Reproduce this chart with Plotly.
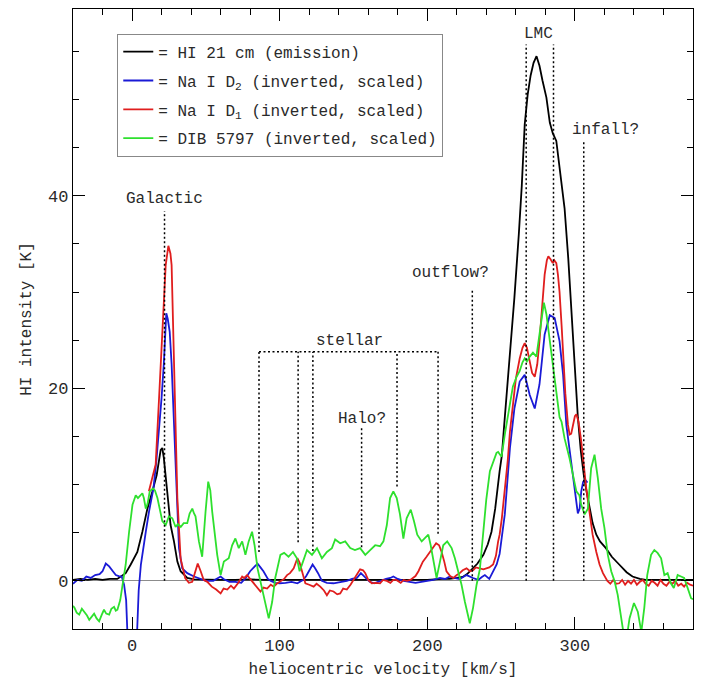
import plotly.graph_objects as go

# ---------------- data ----------------
hi_v = [-40, -35, -30, -25, -20, -15, -10, -7.6, -4.3, -0.9, 3.6, 7, 10.4, 13.8, 16.7, 19.4, 20.5,
        21.5, 22.8, 25, 26.1, 28.4, 30.7, 32.9, 37.4, 42, 50, 60, 70, 80, 90, 100, 110, 120, 130,
        140, 150, 160, 170, 180, 190, 200, 210, 215, 220, 224, 227, 229, 231, 234, 238, 241, 243.5,
        246, 249, 250.5, 252, 255, 259, 262, 264, 266, 268, 270, 272, 274, 276, 278, 280.7, 283,
        285, 287.4, 290, 293, 295.5, 297.6, 300, 302, 304, 306, 308, 310, 312, 314.5, 317, 321,
        325, 330, 335, 339, 344, 348, 355, 362, 370, 380]
hi_k = [0.1, 0.2, 0.1, 0.2, 0.1, 0.2, 0.2, 0.45, 0.8, 1.7, 3.0, 5.1, 7.5, 9.3, 11.0, 13.6, 13.8,
        12.8, 10.7, 7.2, 5.8, 4.1, 2.0, 1.0, 0.3, 0.15, 0.1, 0.1, 0.1, 0.15, 0.1, 0.1, 0.15, 0.1, 0.1,
        0.15, 0.1, 0.1, 0.15, 0.1, 0.15, 0.1, 0.2, 0.2, 0.3, 0.4, 0.7, 1.0, 1.3, 1.8, 2.7, 3.8, 5.1,
        7.5, 11.4, 13.0, 16.0, 21.5, 29.4, 36.0, 41.0, 47.4, 50.5, 52.5, 53.8, 54.5, 53.5, 52.0, 50.2, 47.6,
        46.5, 45.7, 42.5, 38.7, 33.5, 28.3, 22.5, 17.0, 13.5, 11.0, 9.2, 7.5, 6.0, 4.8, 4.1, 3.4,
        2.5, 1.7, 0.9, 0.45, 0.2, 0.1, 0.1, 0.15, 0.1, 0.1]

d2_pts = [(-40, -0.3), (-37, 0.1), (-34, 0.0), (-31, 0.45), (-28, 0.3), (-25, 0.6), (-22, 0.7),
          (-20, 1.0), (-17.8, 1.8), (-15.5, 1.5), (-13, 1.0), (-11, 0.6), (-9, 0.5), (-7, 0.45),
          (-5.4, -0.4), (-4, -2), (-3, -6), (-1, -15), (1, -15), (3, -6), (4.5, -1), (6, 1.7),
          (7.5, 3.5), (9.3, 5.1), (11.5, 7.2), (14.5, 9.6), (16.5, 12.5), (18.3, 15.5), (20, 19),
          (21.5, 22.5), (22.5, 26), (23.2, 27.8), (24.2, 27.2), (25.5, 25.9), (26.8, 22.5), (28, 18),
          (30, 8.6), (31.8, 3.4), (34, 1.3), (37.4, 0.8), (42, 0.45), (46.4, 0.2), (50, 0.0), (55, 0.0),
          (58, 0.3), (60, 0.45), (62, 0.2), (66, -0.1), (70, -0.1), (74, -0.2), (77, 0.3), (80, 1.0),
          (82.5, 1.4), (85, 1.8), (87, 1.4), (89, 1.0), (92, 0.2), (94, 0.0), (97, -0.2), (100, -0.25),
          (104, -0.2), (108, -0.1), (112, -0.25), (116, 0.1), (118, 0.5), (120, 1.0), (122.3, 1.7),
          (124, 1.3), (126, 0.8), (128.6, 0.0), (132, -0.2), (136.5, -0.25), (141, -0.1), (145.5, 0.0),
          (149, 0.2), (152.3, 0.3), (155, 0.8), (158, 0.3), (161, -0.1), (164, -0.25), (168, 0.0),
          (172, 0.2), (175, 0.3), (177, 0.45), (180, 0.2), (184, 0.0), (188, -0.1), (192, -0.2),
          (196, -0.1), (200, 0.0), (204, 0.1), (208.6, 0.3), (212, 0.2), (215.3, 0.45), (218, 0.3),
          (222, 0.2), (226.6, 0.6), (231, 0.3), (234.5, 0.1), (237, 0.4), (239, 0.6), (242, 0.2),
          (244.6, 1.0), (247, 1.7), (249, 2.8), (252.5, 6.9), (256, 13.8), (259, 17.9), (262.6, 20.7),
          (266, 21.4), (269.4, 19.3), (272.8, 17.9), (276, 20.4), (279.5, 25.6), (283, 27.6),
          (286.3, 27.3), (289.6, 24.9), (292, 21.4), (294.2, 16.2), (296.5, 13.5), (298.6, 11.4),
          (301, 8.5), (302, 7.0), (303.2, 7.5), (304.3, 9.3), (305.6, 10.3), (307, 10.5), (308.5, 10.2)]

d1_pts = [(11.4, 9.3), (13.5, 10.5), (16, 12.1), (18.3, 19), (20.5, 25.9), (22.8, 32.8), (24.6, 34.8),
          (26, 34), (26.8, 32.8), (28.4, 22.5), (30.7, 8.6), (32.9, 2.3), (36, 0.3), (38.5, -0.2),
          (40.8, -0.1), (42.5, 0.8), (44.5, 1.8), (46.5, 1.0), (48.5, 0.1), (51, -0.1), (54, -0.6),
          (57, -0.9), (60, -1.3), (62, -0.8), (64.5, -0.9), (67, -0.5), (69, -0.8), (72, -0.2),
          (74.6, 0.45), (76, 0.3), (78, 0.6), (80, 0.2), (82.4, -0.25), (85, -0.8), (87, -1.1),
          (89, -0.7), (91.5, -0.8), (94, -0.4), (96, -0.6), (98, -0.3), (100.5, -0.07), (103, 0.2),
          (105, 0.6), (107, 0.8), (109.5, 1.3), (112, 2.35), (113.5, 1.9), (115, 1.0), (117.4, -0.25),
          (120, -0.4), (123, -0.6), (125, -0.3), (127.5, -0.6), (130, -1.0), (132, -1.5), (134, -1.0),
          (136.5, -1.1), (139, -1.4), (141, -1.3), (143, -0.8), (145.5, -0.9), (148, -0.4), (150, 0.1),
          (152, 0.6), (154.5, 1.2), (156.5, 1.1), (158, 0.8), (160, 0.1), (162.4, -0.25), (165, -0.2),
          (168, -0.25), (170, 0.1), (172.6, 0.0), (175, -0.2), (177, 0.1), (179, 0.1), (182, -0.2),
          (184, 0.1), (186, 0.0), (188.5, 0.1), (190.6, 0.3), (192, 0.5), (194, 1.0), (197, 2.0),
          (199.5, 2.5), (202, 3.0), (204, 3.5), (206, 3.9), (208, 3.7), (209.7, 3.0), (211.5, 2.0),
          (213, 1.0), (215.5, 0.5), (217.6, 0.3), (220, 0.6), (222, 0.8), (224, 1.1), (226.6, 1.3),
          (229, 1.0), (231, 1.1), (233, 1.4), (235.6, 1.3), (238, 1.2), (240, 1.3), (242, 1.4),
          (244.6, 1.7), (246.5, 2.6), (248, 4.1), (249, 4.8), (250.5, 6.5), (252.5, 9.3), (254.5, 12.5),
          (256, 15.5), (258, 18.5), (260, 21), (262.6, 23.1), (264.5, 24.2), (266, 24.7), (267.5, 24.2),
          (269.4, 22.8), (271, 21.6), (272.8, 21.2), (274.5, 22.5), (276, 24.9), (278, 28.5),
          (279.5, 31.8), (281, 33.3), (282, 33.7), (283.5, 33.4), (285, 33.0), (286, 33.3),
          (287.4, 33.0), (288.5, 31.8), (289.6, 30), (291, 26.5), (292, 23.1), (293.5, 19.5),
          (295.3, 16.2), (296.4, 15.2), (297.5, 15.3), (299, 16.5), (300, 17.1), (301, 17.3),
          (302.5, 16.5), (304.3, 14.5), (306, 12), (307.7, 9.6), (310, 7), (312, 4.8), (314.5, 3),
          (316.7, 1.7), (319, 0.8), (322, 0.0), (324, -0.3), (326, 0.1), (328, -0.3), (330, -0.25),
          (332, 0.1), (334, -0.4), (336, 0.0), (338, -0.3), (340, 0.1), (342, -0.4), (344, -0.1),
          (346, 0.1), (348, -0.3), (350, -0.5), (352, 0.0), (354, -0.2), (356, -0.5), (358, 0.1),
          (360, -0.3), (362, -0.5), (364, -0.1), (366, -0.3), (368, 0.0), (370, -0.5), (372, -0.3),
          (374, -0.6), (376, -0.2), (378, -0.4), (380, -0.5)]

dib_pts = [(-40, -2.6), (-39, -2.8), (-37.5, -3.3), (-35.8, -3.5), (-34, -2.9), (-32.4, -3.2),
           (-30.5, -3.6), (-29, -4.05), (-27.5, -3.7), (-25.7, -3.4), (-24, -3.9), (-22.3, -4.2),
           (-20.5, -3.5), (-19, -3.0), (-17.5, -3.4), (-15.5, -3.5), (-14, -2.9), (-12.2, -2.7),
           (-11, -3.1), (-9.9, -3.0), (-8, -2.0), (-6.5, -0.4), (-4.3, 1.7), (-2, 5.1), (0.3, 7.9),
           (2.5, 8.9), (4, 8.6), (5.2, 8.8), (7, 9.1), (8, 8.6), (9.3, 7.5), (10.5, 8.0), (12, 9.3),
           (14.2, 9.6), (15.5, 9.4), (17.2, 8.6), (19, 7.2), (20.5, 6.2), (22.8, 5.8), (24, 6.2),
           (25, 6.7), (27.3, 6.5), (29.5, 5.6), (31, 5.9), (33, 5.6), (35, 6.0), (37.4, 6.0), (39, 7.0),
           (40.8, 7.5), (42, 7.0), (43, 6.7), (45.3, 4.1), (47.5, 2.5), (49.8, 7.2), (51.6, 10.3),
           (53, 9.4), (54.3, 7.2), (57.7, 2.7), (60, 0.6), (62.2, 2.0), (65.5, 2.35), (67.8, 3.7),
           (70, 4.4), (72.3, 3.4), (74.6, 4.1), (76.8, 2.7), (79, 4.1), (81.3, 5.1), (83, 3.7),
           (85, 1.3), (88, -0.8), (90.3, -2.2), (92.6, -3.9), (94.9, -2.2), (97, 0.3), (100.5, 2.7),
           (103, 2.9), (106, 2.5), (109, 3.0), (111.7, 2.35), (113.5, 1.0), (115.8, 2.0), (118.5, 3.2),
           (121.9, 2.7), (125.3, 3.4), (128.6, 2.35), (132, 3.0), (135.4, 3.4), (137.6, 4.3), (141, 3.9),
           (144.4, 4.1), (147.8, 3.4), (151, 3.2), (154.5, 3.4), (158, 2.7), (161.3, 3.2), (164.7, 3.7),
           (168, 3.6), (170.3, 4.1), (172.6, 5.8), (174.8, 8.6), (177, 9.3), (179.3, 8.6), (181.5, 6.9),
           (183.8, 4.4), (186, 6.5), (188.8, 7.4), (191, 6.2), (193.2, 4.8), (196.2, 4.1), (198.4, 4.4),
           (200.7, 4.8), (202.3, 3.7), (204.5, 1.7), (206.3, 0.3), (208.6, 2.0), (210.8, 3.7),
           (213.5, 4.1), (216.5, 3.4), (218.7, 2.35), (221, 1.0), (223.2, -0.4), (225.5, -2.2),
           (227.7, -3.9), (228.8, -4.4), (231, -2.8), (233.4, -0.4), (235.6, 1.2), (237.8, 4.8),
           (240, 8.5), (242.4, 11.4), (244.6, 12.4), (246.9, 13.3), (248, 13.4), (250.3, 12.9),
           (252.5, 15.2), (254.7, 17.3), (258, 20.2), (260.5, 21.2), (262.6, 21.8), (264.5, 22.7),
           (266, 23.1), (267.5, 22.8), (269.4, 23.3), (271.6, 23.7), (273.9, 23.3), (276, 25.6),
           (277.5, 27.5), (279, 28.9), (280.7, 27.7), (283, 24.9), (285.6, 21.4), (287.8, 18.6),
           (289.6, 17.0), (291, 16.5), (293, 14.8), (296.4, 12.7), (298.6, 11.0), (301, 9.3), (303, 8.9),
           (304.3, 7.9), (306.6, 6.9), (308.8, 7.5), (311, 11.7), (313.3, 13.1), (315.5, 10.7),
           (317.8, 7.5), (320, 5.5), (322.3, 2.7), (324.6, 1.0), (326.8, 0.0), (329, -1.45),
           (331.4, -3.6), (333, -5.5), (335, -6), (337, -3.9), (340, -2.3), (342.6, -3.2), (345, -5.3),
           (347, -2.8), (349, 0.6), (351.6, 2.7), (353.8, 3.2), (356, 2.9), (358.4, 2.35), (360.6, 0.6),
           (362.8, 0.8), (365, -0.25), (367, -0.75), (369.6, 0.6), (371.9, 0.45), (374, 0.3),
           (376.4, -0.75), (378.7, -1.8), (380, -1.9)]

series_names = ["= HI 21 cm (emission)",
                "= Na I D<sub>2</sub> (inverted, scaled)",
                "= Na I D<sub>1</sub> (inverted, scaled)",
                "= DIB 5797 (inverted, scaled)"]
series_colors = ["#000000", "#1a1ad6", "#e01e1e", "#2ee02e"]

# marker lines: (velocity, bottom K, top K)
marker_lines = [(22, 0, 38.4), (86, 3.0, 23.8), (112.5, 4.0, 23.8), (122.5, 3.1, 23.8),
                (179.5, 9.8, 23.8), (207.3, 4.9, 23.8), (155.5, 3.5, 16.0), (230.5, 0, 30.4),
                (267, 0, 55.7), (285.5, 0, 55.7), (306, 0, 45.6)]
bracket = (86, 207.3, 23.8)
# label text centres (velocity, K)
labels = [("Galactic", 22, 39.7), ("stellar", 147, 24.9), ("Halo?", 156, 16.8),
          ("outflow?", 216, 32.0), ("LMC", 275.5, 56.8), ("infall?", 321, 46.8)]

# ---------------- figure ----------------
FONT = "Liberation Mono"
TXT = "#2a2a2a"
fig = go.Figure()
xs = [hi_v, [p[0] for p in d2_pts], [p[0] for p in d1_pts], [p[0] for p in dib_pts]]
ys = [hi_k, [p[1] for p in d2_pts], [p[1] for p in d1_pts], [p[1] for p in dib_pts]]
for i, (x, y, n, c) in enumerate(zip(xs, ys, series_names, series_colors)):
    fig.add_trace(go.Scatter(x=x, y=y, mode="lines", name=n, legendgroup=f"g{i}",
                             line=dict(color=c, width=1.8), cliponaxis=True))

dash = "2px,2.5px"
for v, y0, y1 in marker_lines:
    fig.add_shape(type="line", xref="x", yref="y", x0=v, x1=v, y0=y0, y1=y1,
                  line=dict(color="black", width=1.5, dash=dash), layer="above")
fig.add_shape(type="line", xref="x", yref="y", x0=bracket[0], x1=bracket[1], y0=bracket[2],
              y1=bracket[2], line=dict(color="black", width=1.5, dash=dash), layer="above")

for t, v, k in labels:
    fig.add_annotation(x=v, y=k, text=t, showarrow=False, xanchor="center", yanchor="middle",
                       font=dict(family=FONT, size=16, color=TXT))

axis_common = dict(showline=True, linecolor="black", linewidth=1.2, mirror="allticks",
                   ticks="inside", tickcolor="black", showgrid=False,
                   tickfont=dict(family=FONT, size=17, color=TXT))
fig.update_xaxes(range=[-40, 380], dtick=100, tick0=0, ticklen=12, tickwidth=1,
                 minor=dict(dtick=20, tick0=0, ticklen=6, ticks="inside", tickcolor="black"),
                 zeroline=False,
                 title=dict(text="heliocentric velocity [km/s]", font=dict(family=FONT, size=16, color=TXT),
                            standoff=8),
                 **axis_common)
fig.update_yaxes(range=[-5, 59.4], dtick=20, tick0=0, ticklen=12, tickwidth=1,
                 minor=dict(dtick=5, tick0=0, ticklen=6, ticks="inside", tickcolor="black"),
                 zeroline=True, zerolinecolor="#8c8c8c", zerolinewidth=1.2,
                 title=dict(text="HI intensity [K]", font=dict(family=FONT, size=16, color=TXT),
                            standoff=12),
                 **axis_common)

# page body has an 8px margin, so the figure is 8px smaller than the window
fig.update_layout(
    width=705, height=677,
    margin=dict(l=65, r=20, t=1, b=56),
    plot_bgcolor="white", paper_bgcolor="white",
    showlegend=True,
    legend=dict(x=0.0714, y=0.96, xanchor="left", yanchor="top",
                bordercolor="#888", borderwidth=1, bgcolor="white",
                font=dict(family=FONT, size=16, color=TXT),
                itemwidth=30, tracegroupgap=5),
)

fig.write_html("out.html")
